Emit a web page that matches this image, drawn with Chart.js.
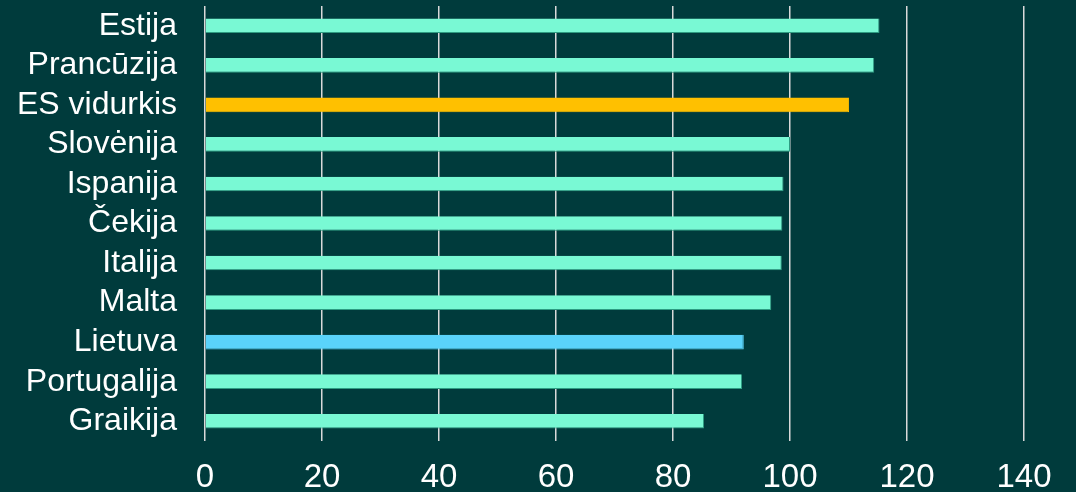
<!DOCTYPE html>
<html>
<head>
<meta charset="utf-8">
<script src="https://cdn.jsdelivr.net/npm/chart.js@4/dist/chart.umd.min.js"></script>
<style>
  html, body { margin: 0; padding: 0; background: #003b3c; }
  #wrap { width: 1076px; height: 492px; }
</style>
</head>
<body>
<div id="wrap"><canvas id="barChart"></canvas></div>
<script>
const countries = ["Estija","Prancūzija","ES vidurkis","Slovėnija","Ispanija","Čekija","Italija","Malta","Lietuva","Portugalija","Graikija"];
const values = [115.3,114.4,110.1,100.0,98.9,98.7,98.6,96.8,92.1,91.8,85.3];
const xTicks = [0,20,40,60,80,100,120,140];

const teal = "#79f9d4";
const barColors = countries.map(function (c) {
    if (c == "ES vidurkis") return "#ffc000";
    if (c == "Lietuva") return "#5ad3fa";
    return teal;
});
const edgeColors = barColors.map(function (c) { return c == teal ? "#2e9c82" : c; });

new Chart("barChart", {
    type: "bar",
    data: {
      labels: countries,
      datasets: [{
        data: values,
        backgroundColor: barColors,
        borderColor: edgeColors,
        borderWidth: {top: 0, left: 0, right: 1, bottom: 1},
        borderSkipped: false,
        categoryPercentage: 1,
        barPercentage: 0.37
      }]
    },
    options: {
      indexAxis: "y",
      responsive: true,
      maintainAspectRatio: false,
      animation: false,
      layout: { padding: { top: 6, right: 52, bottom: 0, left: 0 } },
      plugins: {
        legend: { display: false },
        tooltip: { enabled: false }
      },
      scales: {
        x: {
          min: 0,
          max: 140,
          afterBuildTicks: function (axis) {
            axis.ticks = xTicks.map(function (v) { return { value: v }; });
          },
          afterFit: function (axis) { axis.height = 51; axis.paddingTop = 0; },
          grid: { color: "#d9d9d9", lineWidth: 1.5, drawTicks: false },
          border: { display: false },
          ticks: {
            color: "#ffffff",
            padding: 17,
            maxRotation: 0,
            autoSkip: false,
            font: { family: "'Liberation Sans', Arial, sans-serif", size: 33 }
          }
        },
        y: {
          afterFit: function (axis) { axis.width = 205; axis.paddingTop = 0; axis.paddingBottom = 0; },
          grid: { display: false, drawTicks: false },
          border: { display: false },
          ticks: {
            color: "#ffffff",
            padding: 28,
            autoSkip: false,
            font: { family: "'Liberation Sans', Arial, sans-serif", size: 32 }
          }
        }
      }
    }
});
</script>
</body>
</html>
